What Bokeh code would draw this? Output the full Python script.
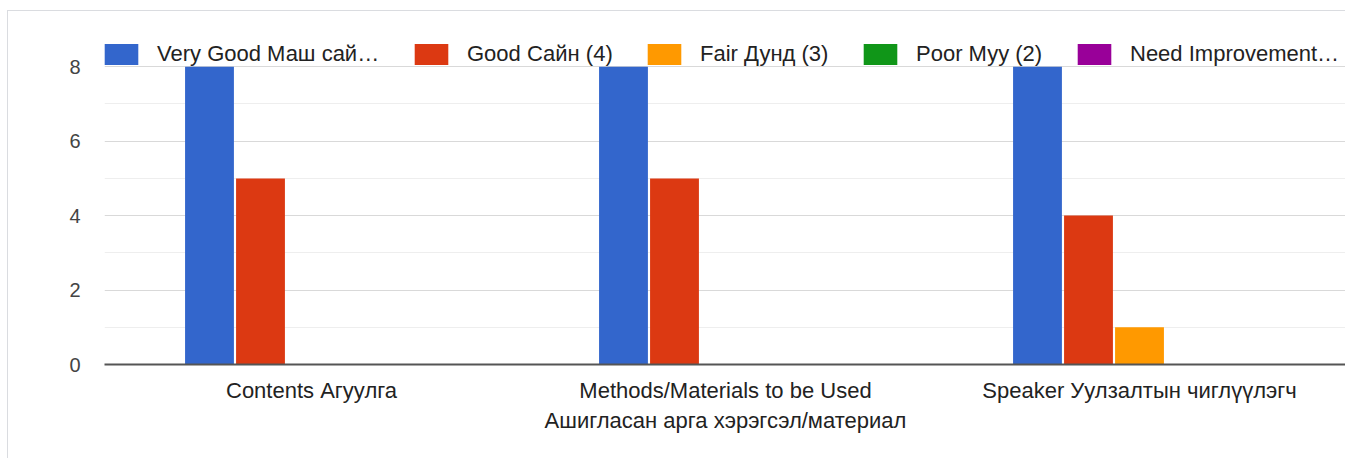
from bokeh.plotting import figure
from bokeh.models import ColumnDataSource, FixedTicker, Legend, LegendItem, Range1d, FactorRange, Spacer
from bokeh.layouts import column, row
from bokeh.transform import dodge
from bokeh.embed import file_html
from bokeh.resources import INLINE

categories = ["Contents Агуулга",
              "Methods/Materials to be Used\nАшигласан арга хэрэгсэл/материал",
              "Speaker Уулзалтын чиглүүлэгч"]
series_labels = ["Very Good Маш сай…", "Good Сайн (4)", "Fair Дунд (3)", "Poor Муу (2)", "Need Improvement…"]
very_good = [8, 8, 8]
good = [5, 5, 4]
fair = [0, 0, 1]
poor = [0, 0, 0]
need_improvement = [0, 0, 0]
y_ticks = [0, 2, 4, 6, 8]
y_minor = [1, 3, 5, 7, 9]

colors = ["#3366cc", "#dc3912", "#ff9900", "#109618", "#990099"]
keys = ["vg", "g", "f", "p", "ni"]
src = ColumnDataSource(dict(cat=categories, vg=very_good, g=good, f=fair, p=poor, ni=need_improvement))

FONT = "Liberation Sans"
p = figure(x_range=FactorRange(*categories, range_padding=0), y_range=Range1d(0, 9),
           width=1338, height=448, output_backend="svg", toolbar_location=None,
           min_border_left=96, min_border_right=0, min_border_top=18, min_border_bottom=95)
p.styles = {"border-left": "1px solid #dadce0", "border-top": "1px solid #dadce0"}
p.outline_line_color = None

pitch = 0.1232
renderers = []
for i, k in enumerate(keys):
    r = p.vbar(x=dodge("cat", (i - 2) * pitch, range=p.x_range), top=k, width=0.118,
               source=src, fill_color=colors[i], line_color=None)
    renderers.append(r)

offsets = [-4, 306, 539, 755, 969]
for i, r in enumerate(renderers):
    lg = Legend(items=[LegendItem(label=series_labels[i], renderers=[r])],
                location=(offsets[i], 297), orientation="horizontal",
                glyph_width=42, glyph_height=26, label_height=26, label_standoff=15,
                padding=0, margin=0,
                border_line_color=None, background_fill_alpha=0,
                label_text_font=FONT, label_text_font_size="22px", label_text_color="#222222")
    p.add_layout(lg, "center")

p.yaxis.ticker = FixedTicker(ticks=y_ticks, minor_ticks=y_minor)
p.yaxis.axis_line_color = None
p.yaxis.major_tick_line_color = None
p.yaxis.minor_tick_line_color = None
p.yaxis.major_label_standoff = 18
p.yaxis.major_label_text_font = FONT
p.yaxis.major_label_text_font_size = "20px"
p.yaxis.major_label_text_color = "#444444"

p.ygrid.grid_line_color = "#d9d9d9"
p.ygrid.minor_grid_line_color = "#eeeeee"
p.xgrid.grid_line_color = None

p.xaxis.axis_line_color = "#555555"
p.xaxis.axis_line_width = 2
p.xaxis.major_tick_line_color = None
p.xaxis.minor_tick_line_color = None
p.xaxis.major_label_standoff = 7
p.xaxis.major_label_text_font = FONT
p.xaxis.major_label_text_font_size = "22px"
p.xaxis.major_label_text_color = "#222222"
p.xaxis.major_label_text_line_height = 1.2

layout = row(Spacer(width=7), column(Spacer(height=10), p, spacing=0), spacing=0)
open("out.html", "w").write(file_html(layout, INLINE))
